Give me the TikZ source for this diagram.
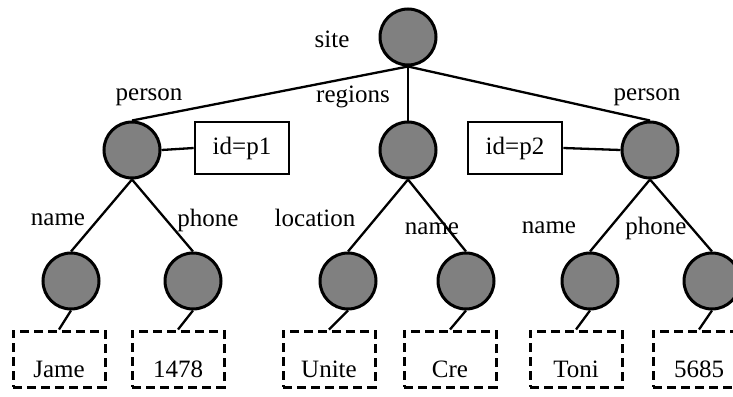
\documentclass[tikz,border=0pt]{standalone}
\usepackage{fontspec}
\setmainfont{Liberation Serif}
\definecolor{nodegray}{RGB}{128,128,128}
\begin{document}
\begin{tikzpicture}[x=0.5pt,y=-0.5pt,
  elem/.style={circle,draw=black,fill=nodegray,line width=1.5pt,minimum size=28pt,inner sep=0pt},
  attrbox/.style={rectangle,draw=black,line width=1.3pt,minimum width=47pt,minimum height=26pt,inner sep=0pt,font=\fontsize{12.5}{14}\selectfont},
  valbox/.style={rectangle,draw=black,line width=1.5pt,dash pattern=on 4.5pt off 2.5pt,minimum width=46pt,minimum height=28pt,inner sep=0pt,font=\fontsize{12.5}{14}\selectfont,text height=18pt,text depth=0pt},
  lbl/.style={inner sep=0pt,font=\fontsize{12.5}{14}\selectfont},
  edge/.style={line width=1.15pt}]
\useasboundingbox (0,0) rectangle (733,396);
\clip (0,0) rectangle (733,396);

% element nodes
\node[elem] (site) at (408,37) {};
\node[elem] (pers1) at (132,150) {};
\node[elem] (regs) at (408,150) {};
\node[elem] (pers2) at (650,150) {};
\node[elem] (nm1) at (71,281) {};
\node[elem] (ph1) at (193,281) {};
\node[elem] (loc) at (348,281) {};
\node[elem] (nm2) at (466,281) {};
\node[elem] (nm3) at (590,281) {};
\node[elem] (ph2) at (712,281) {};

% attribute boxes
\node[attrbox] (id1) at (242,148) {id=p1};
\node[attrbox] (id2) at (515,148) {id=p2};

% value boxes
\node[valbox] (v1) at (59,359) {Jame};
\node[valbox] (v2) at (178,359) {1478};
\node[valbox] (v3) at (329,359) {Unite};
\node[valbox] (v4) at (450,359) {Cre};
\node[valbox] (v5) at (576,359) {Toni};
\node[valbox] (v6) at (699,359) {5685};

% tree edges
\draw[edge] (site.south) -- (pers1.north);
\draw[edge] (site.south) -- (regs.north);
\draw[edge] (site.south) -- (pers2.north);
\draw[edge] (pers1.south) -- (nm1.north);
\draw[edge] (pers1.south) -- (ph1.north);
\draw[edge] (regs.south) -- (loc.north);
\draw[edge] (regs.south) -- (nm2.north);
\draw[edge] (pers2.south) -- (nm3.north);
\draw[edge] (pers2.south) -- (ph2.north);
\draw[edge] (pers1.east) -- (id1.west);
\draw[edge] (id2.east) -- (pers2.west);
\draw[edge] (nm1.south) -- (v1.north);
\draw[edge] (ph1.south) -- (v2.north);
\draw[edge] (loc.south) -- (v3.north);
\draw[edge] (nm2.south) -- (v4.north);
\draw[edge] (nm3.south) -- (v5.north);
\draw[edge] (ph2.south) -- (v6.north);

% edge labels
\node[lbl] (tsite) at (332,39) {site};
\node[lbl] (tp1) at (149,97) {person};
\node[lbl] (treg) at (353,97) {regions};
\node[lbl] (tp2) at (647,97) {person};
\node[lbl] (tn1) at (58,220) {name};
\node[lbl] (tph1) at (208,220) {phone};
\node[lbl] (tloc) at (315,218) {location};
\node[lbl] (tn2) at (432,229) {name};
\node[lbl] (tn3) at (549,228) {name};
\node[lbl] (tph2) at (656,228) {phone};
\end{tikzpicture}
\end{document}
